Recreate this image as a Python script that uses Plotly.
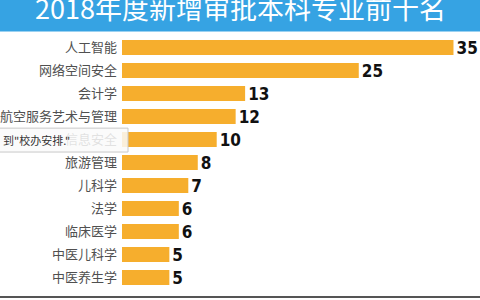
import plotly.graph_objects as go

categories = ["人工智能", "网络空间安全", "会计学", "航空服务艺术与管理", "信息安全",
              "旅游管理", "儿科学", "法学", "临床医学", "中医儿科学", "中医养生学"]
values = [35, 25, 13, 12, 10, 8, 7, 6, 6, 5, 5]
title_text = "2018年度新增审批本科专业前十名"
overlay_text = "到\"校办安排.\""

W, H = 480, 300
L, R, T, B = 122, 0, 35.5, 10.5
pw, ph = W - L - R, H - T - B

def px(x):
    return (x - L) / pw

def py(y):
    return (H - B - y) / ph

fig = go.Figure()
fig.add_trace(go.Bar(
    x=values, y=categories, orientation="h",
    marker=dict(color="#F6AE2D", line=dict(width=0)),
    width=0.66,
    text=[str(v) for v in values], textposition="outside",
    constraintext="none",
    textfont=dict(family="DejaVu Sans Condensed, Liberation Sans Narrow, sans-serif",
                  size=17, color="#111111", weight="bold"),
    cliponaxis=False,
))

shapes = [
    dict(type="rect", xref="paper", yref="paper", x0=px(0), x1=px(W), y0=py(31), y1=py(-5),
         fillcolor="#36A3E3", line=dict(width=0), layer="above"),
    dict(type="line", xref="paper", yref="paper", x0=px(0), x1=px(W), y0=py(297.5), y1=py(297.5),
         line=dict(color="#555555", width=2), layer="above"),
    dict(type="rect", xref="paper", yref="paper", x0=px(-2), x1=px(128), y0=py(152), y1=py(128),
         fillcolor="rgba(250,250,250,0.85)", line=dict(color="#c8c8c8", width=1), layer="above"),
]

annotations = [
    dict(text=title_text, xref="paper", yref="paper", x=px(240), y=py(7), xanchor="center",
         yanchor="middle", showarrow=False,
         font=dict(family="Noto Sans CJK SC", size=27, color="white")),
    dict(text=overlay_text, xref="paper", yref="paper", x=px(1), y=py(140), xanchor="left",
         yanchor="middle", showarrow=False,
         font=dict(family="Noto Sans CJK SC", size=11, color="#333333")),
]

fig.update_layout(
    width=W, height=H,
    margin=dict(l=L, r=R, t=T, b=B, pad=0),
    paper_bgcolor="white", plot_bgcolor="white",
    showlegend=False,
    bargap=0.34,
    xaxis=dict(range=[0, 37.8], visible=False, fixedrange=True),
    yaxis=dict(autorange="reversed", showgrid=False, zeroline=False, showline=False,
               ticks="", ticklabelstandoff=4,
               tickfont=dict(family="Noto Sans CJK SC", size=13, color="#505050")),
    shapes=shapes,
    annotations=annotations,
)

fig.write_html("out.html", config={"displayModeBar": False})
